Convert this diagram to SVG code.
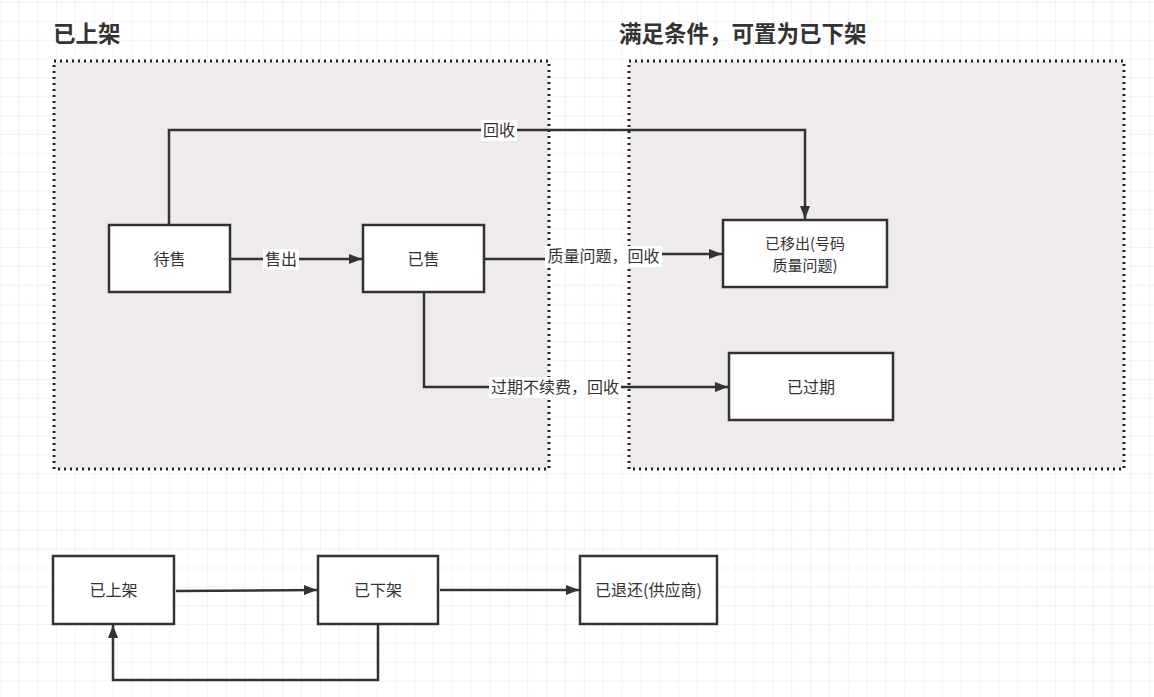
<svg xmlns="http://www.w3.org/2000/svg" width="1154" height="697" viewBox="0 0 1154 697">
<defs>
<pattern id="grid" x="18.3" y="2" width="18.85" height="18.85" patternUnits="userSpaceOnUse">
<path d="M0 0H18.85M0 0V18.85" fill="none" stroke="#e8e8e8" stroke-width="1"/>
</pattern>
<marker id="arr" viewBox="0 0 13 10" refX="13" refY="5" markerWidth="13" markerHeight="10" markerUnits="userSpaceOnUse" orient="auto">
<path d="M0 0L13 5L0 10Z" fill="#333"/>
</marker>
<style>
.container{fill:#eeebea;stroke:#222;stroke-width:3;stroke-dasharray:2 4}
.title{font-family:"Noto Sans CJK SC","Liberation Sans",sans-serif;font-size:22.5px;font-weight:bold;fill:#333}
.box{fill:#fff;stroke:#333;stroke-width:2.5}
.txt{font-family:"Noto Sans CJK SC","Liberation Sans",sans-serif;font-size:16px;fill:#333;text-anchor:middle}
.txt2{font-family:"Noto Sans CJK SC","Liberation Sans",sans-serif;font-size:15px;fill:#333;text-anchor:middle}
.edge{fill:none;stroke:#333;stroke-width:2.5}
.lbg{fill:#fff}
.lbl{font-family:"Noto Sans CJK SC","Liberation Sans",sans-serif;font-size:16px;fill:#333;text-anchor:middle}
</style>
</defs>
<rect width="1154" height="697" fill="#fff"/>
<rect width="1154" height="697" fill="url(#grid)"/>

<g id="group-listed">
<rect class="container" x="54" y="61" width="495" height="408"/>
<text class="title" x="53" y="42">已上架</text>
</g>
<g id="group-delist">
<rect class="container" x="629" y="61" width="495" height="408"/>
<text class="title" x="619" y="42">满足条件，可置为已下架</text>
</g>

<g id="connectors">
<path class="edge" d="M169 225V130H805V219" marker-end="url(#arr)"/>
<path class="edge" d="M230 259H362" marker-end="url(#arr)"/>
<path class="edge" d="M484 259H604V254H722" marker-end="url(#arr)"/>
<path class="edge" d="M424 292V387H728" marker-end="url(#arr)"/>
<path class="edge" d="M176 591L317 590" marker-end="url(#arr)"/>
<path class="edge" d="M440 590H579" marker-end="url(#arr)"/>
<path class="edge" d="M378 624V680H113V625" marker-end="url(#arr)"/>
<rect class="lbg" x="481" y="120" width="36" height="21"/>
<text class="lbl" x="499" y="136">回收</text>
<rect class="lbg" x="263" y="249" width="36" height="21"/>
<text class="lbl" x="281" y="265">售出</text>
<rect class="lbg" x="545" y="246" width="117" height="21"/>
<text class="lbl" x="603.5" y="262">质量问题，回收</text>
<rect class="lbg" x="489" y="377" width="132" height="21"/>
<text class="lbl" x="555" y="393">过期不续费，回收</text>
</g>

<g id="node-waiting">
<rect class="box" x="109" y="225" width="121" height="67"/>
<text class="txt" x="169.5" y="264.5">待售</text>
</g>
<g id="node-sold">
<rect class="box" x="363" y="225" width="121" height="67"/>
<text class="txt" x="423.5" y="264.5">已售</text>
</g>
<g id="node-removed">
<rect class="box" x="723" y="220" width="164" height="67"/>
<text class="txt2" x="805" y="248.5">已移出(号码</text>
<text class="txt2" x="805" y="270.5">质量问题)</text>
</g>
<g id="node-expired">
<rect class="box" x="729" y="353" width="164" height="67"/>
<text class="txt" x="811" y="392.5">已过期</text>
</g>
<g id="node-listed">
<rect class="box" x="53" y="556" width="121" height="68"/>
<text class="txt" x="113.5" y="596">已上架</text>
</g>
<g id="node-delisted">
<rect class="box" x="318" y="556" width="120" height="68"/>
<text class="txt" x="378" y="596">已下架</text>
</g>
<g id="node-returned">
<rect class="box" x="580" y="556" width="137" height="68"/>
<text class="txt" x="648.5" y="596">已退还(供应商)</text>
</g>
</svg>
